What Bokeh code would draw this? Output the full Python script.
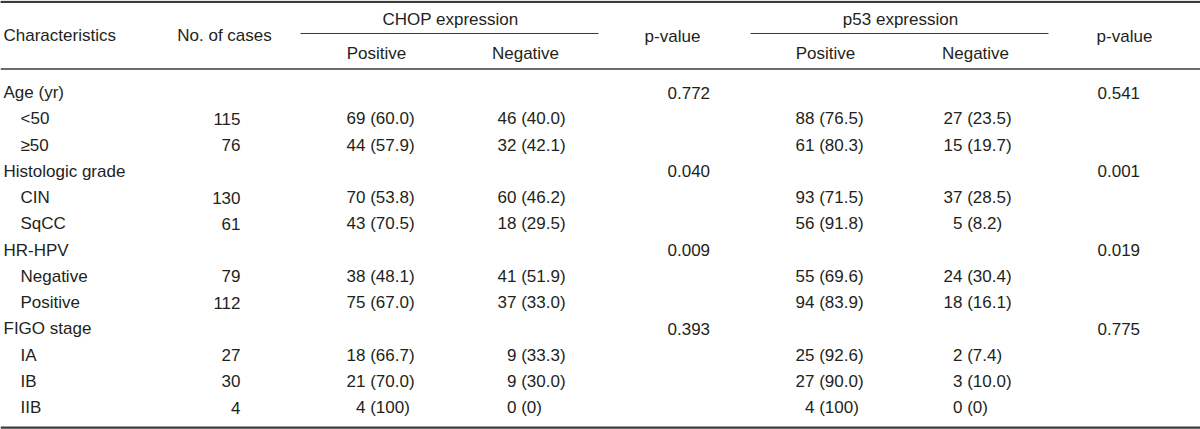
from bokeh.plotting import figure
from bokeh.models import ColumnDataSource, Range1d, Span
from bokeh.core.properties import value
from bokeh.embed import file_html
from bokeh.resources import INLINE

# ---------------- data ----------------
characteristics = ["Age (yr)", "<50", "\u226550", "Histologic grade", "CIN", "SqCC",
                   "HR-HPV", "Negative", "Positive", "FIGO stage", "IA", "IB", "IIB"]
is_group = [True, False, False, True, False, False, True, False, False, True, False, False, False]
n_cases = ["", "115", "76", "", "130", "61", "", "79", "112", "", "27", "30", "4"]
chop_pos = ["", "69 (60.0)", "44 (57.9)", "", "70 (53.8)", "43 (70.5)", "",
            "38 (48.1)", "75 (67.0)", "", "18 (66.7)", "21 (70.0)", "4 (100)"]
chop_neg = ["", "46 (40.0)", "32 (42.1)", "", "60 (46.2)", "18 (29.5)", "",
            "41 (51.9)", "37 (33.0)", "", "9 (33.3)", "9 (30.0)", "0 (0)"]
chop_p = ["0.772", "", "", "0.040", "", "", "0.009", "", "", "0.393", "", "", ""]
p53_pos = ["", "88 (76.5)", "61 (80.3)", "", "93 (71.5)", "56 (91.8)", "",
           "55 (69.6)", "94 (83.9)", "", "25 (92.6)", "27 (90.0)", "4 (100)"]
p53_neg = ["", "27 (23.5)", "15 (19.7)", "", "37 (28.5)", "5 (8.2)", "",
           "24 (30.4)", "18 (16.1)", "", "2 (7.4)", "3 (10.0)", "0 (0)"]
p53_p = ["0.541", "", "", "0.001", "", "", "0.019", "", "", "0.775", "", "", ""]

header_top = ["CHOP expression", "p53 expression"]
header_sub = ["Positive", "Negative", "Positive", "Negative"]

# ---------------- layout / style ----------------
W, H = 1200, 429
FONT = "Liberation Sans"
FS = "17px"
TXT = "#231f20"
LINE = "#3a3a3a"
ROW0, ROWH = 92, 26.25
DIGIT = 9.45  # width of one digit in data units

p = figure(width=W, height=H, output_backend="svg", toolbar_location=None,
           x_range=Range1d(0, W), y_range=Range1d(H, 0), min_border=0,
           outline_line_color=None, background_fill_color="white")
p.xaxis.visible = False
p.yaxis.visible = False
p.grid.visible = False


def txt(xs, ys, texts, align="left"):
    src = ColumnDataSource(dict(x=xs, y=ys, t=texts))
    p.text("x", "y", text="t", source=src, text_font=value(FONT), text_font_size=FS,
           text_color=TXT, text_align=align, text_baseline="middle")


rows_y = [ROW0 + i * ROWH for i in range(len(characteristics))]

# characteristics column
txt([3 if g else 20 for g in is_group], rows_y, characteristics)
# No. of cases
txt([240] * len(rows_y), rows_y, n_cases, align="right")


def count_aligned(col_x, vals):
    xs, ys, ts = [], [], []
    for y, v in zip(rows_y, vals):
        if not v:
            continue
        nd = len(v.split(" ")[0])
        xs.append(col_x + (2 - nd) * DIGIT)
        ys.append(y)
        ts.append(v)
    txt(xs, ys, ts)


count_aligned(346, chop_pos)
count_aligned(497, chop_neg)
count_aligned(795, p53_pos)
count_aligned(943, p53_neg)
txt([667] * len(rows_y), rows_y, chop_p)
txt([1097] * len(rows_y), rows_y, p53_p)

# headers
txt([3], [35], ["Characteristics"])
txt([224], [35], ["No. of cases"], align="center")
txt([450, 900], [19, 19], header_top, align="center")
txt([376, 525, 825, 975], [53] * 4, header_sub, align="center")
txt([672, 1124], [36, 36], ["p-value", "p-value"], align="center")

# rules
p.segment(x0=[300, 750], y0=[33, 33], x1=[598, 1048], y1=[33, 33], line_color=LINE, line_width=1)
p.segment(x0=[0], y0=[68.5], x1=[W], y1=[68.5], line_color=LINE, line_width=1.5)
p.quad(left=[0, 0], right=[W, W], top=[0.3, 426], bottom=[2.5, 428.2],
       fill_color=LINE, line_color=None)
p.add_layout(Span(location=1.5, dimension="width", line_color=LINE, line_width=2))

open("out.html", "w").write(file_html(p, INLINE))
